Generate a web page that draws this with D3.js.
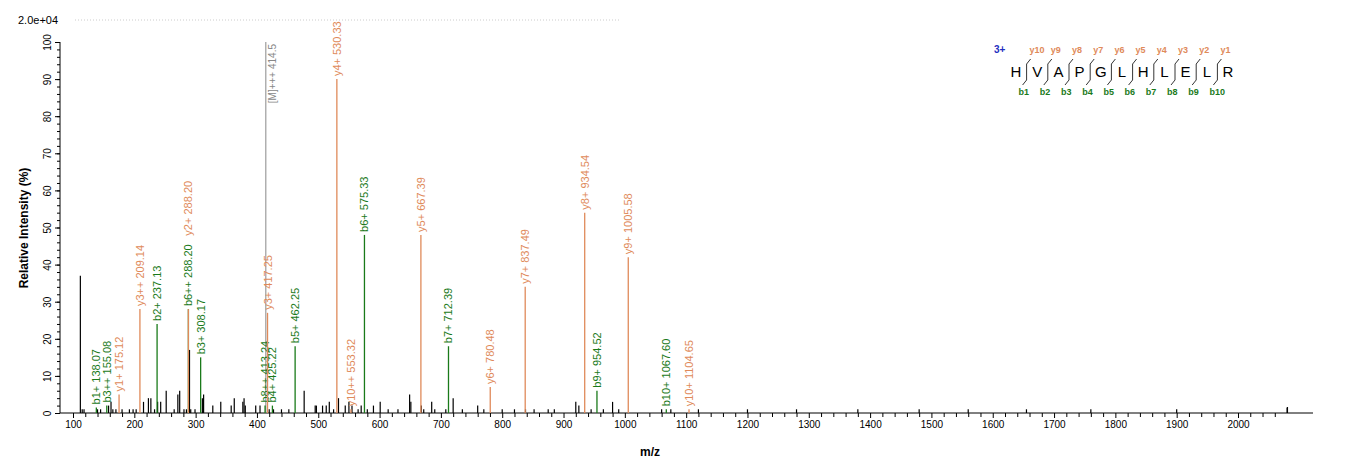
<!DOCTYPE html><html><head><meta charset="utf-8"><script src="https://cdn.jsdelivr.net/npm/d3@7"></script>
<style>body{margin:0;background:#fff}text{font-family:Arial,"Liberation Sans",sans-serif}</style></head><body><svg id="c" width="1362" height="473"></svg>
<script>
const xTicks=d3.range(100,2001,100);
const yTicks=[0,10,20,30,40,50,60,70,80,90,100];
const noiseMz=[112,115,118,140,145,158,162,165,170,180,192,198,203,215,223,227,233,238,243,252,265,271,274,281,285,290,292,299,311,313,328,341,358,363,377,379,381,398,405,420,427,440,452,477,495,497,507,513,518,525,533,544,550,555,565,570,580,590,601,614,630,649,651,668,672,685,690,708,720,735,760,770,800,820,838,852,875,885,920,925,945,965,980,990,1060,1075,1120,1200,1280,1380,1480,1560,1655,1760,1900,2080];
const noiseInt=[37,1,1,1,1,2,3,1,1,1,1,1,1,3,4,4,1,3,3,6,1,5,6,1,1,17,1,1,4,5,2,3,2,4,3,4,2,2,2,1,1,1,1,6,2,2,2,2,3,1,4,2,3,2,1,2,1,2,3,1,1,5,3,2,1,3,1,1,4,1,2,1,1,1,1,1,1,1,3,2,1,1,3,1,1,1,1,1,1,1,1,1,1,1,1,1.5];
const ionLabel=["b1+ 138.07","b3++ 155.08","y1+ 175.12","y3++ 209.14","b2+ 237.13","b6++ 288.20","y2+ 288.20","b3+ 308.17","b8++ 413.24","b4+ 425.22","y3+ 417.25","b5+ 462.25","y4+ 530.33","y10++ 553.32","b6+ 575.33","y5+ 667.39","b7+ 712.39","y6+ 780.48","y7+ 837.49","y8+ 934.54","b9+ 954.52","y9+ 1005.58","b10+ 1067.60","y10+ 1104.65"];
const ionMz=[138.07,155.08,175.12,209.14,237.13,288.2,288.2,308.17,413.24,425.22,417.25,462.25,530.33,553.32,575.33,667.39,712.39,780.48,837.49,934.54,954.52,1005.58,1067.6,1104.65];
const ionInt=[1.5,2,5,28,24,28,47,15,2,2,27,18,90,1,48,48,18,7,34,54,6,42,1,1];
const ionType=["b","b","y","y","b","b","y","b","b","b","y","b","y","y","b","y","b","y","y","y","b","y","b","y"];
const precursorMz=414.5, precursorInt=100, precursorLabel="[M]+++ 414.5";
const seq=["H","V","A","P","G","L","H","L","E","L","R"];
const colors={b:"#1a7a1a",y:"#e08a5a"};
const svg=d3.select("#c");
const x=d3.scaleLinear().domain([100,2000]).range([73,1238]);
const y=d3.scaleLinear().domain([0,100]).range([413,42]);
svg.append("g").attr("transform","translate(0,413)").call(d3.axisBottom(x).tickValues(xTicks).tickSize(5).tickFormat(d3.format("d"))).call(g=>{g.select(".domain").attr("d","M60,0H1313");g.selectAll("text").attr("font-size",10);});
svg.append("g").attr("transform","translate(0,413)").call(d3.axisBottom(x).tickValues(d3.range(120,2061,20).filter(v=>v%100)).tickSize(4).tickFormat("")).select(".domain").remove();
svg.append("g").attr("transform","translate(0,413)").call(d3.axisBottom(x).tickValues([2080]).tickSize(-6).tickFormat("")).select(".domain").remove();
svg.append("g").attr("transform","translate(60,0)").call(d3.axisLeft(y).tickValues(yTicks).tickSize(5)).call(g=>{g.selectAll("text").attr("font-size",10).attr("text-anchor","middle").attr("transform",function(){const t=d3.select(this.parentNode).attr("transform");return "translate(-12,0) rotate(-90)";}).attr("x",0).attr("dy","0.32em");g.select(".domain").attr("d","M0,413V42");});
svg.append("g").attr("transform","translate(60,0)").call(d3.axisLeft(y).tickValues(d3.range(2,100,2)).tickSize(3).tickFormat("")).select(".domain").remove();
svg.append("text").attr("x",18).attr("y",24).attr("font-size",11).text("2.0e+04");
svg.append("line").attr("x1",75).attr("x2",620).attr("y1",20).attr("y2",20).attr("stroke","#ccc").attr("stroke-dasharray","1,2");
svg.append("text").attr("transform","translate(28,228) rotate(-90)").attr("text-anchor","middle").attr("font-size",12).attr("font-weight","bold").text("Relative   Intensity (%)");
svg.append("text").attr("x",650).attr("y",456).attr("text-anchor","middle").attr("font-size",12).attr("font-weight","bold").text("m/z");
svg.selectAll(".n").data(noiseMz).join("line").attr("x1",d=>x(d)).attr("x2",d=>x(d)).attr("y1",413).attr("y2",(d,i)=>y(noiseInt[i])).attr("stroke","#000").attr("stroke-width",1.2);
svg.append("line").attr("x1",x(precursorMz)).attr("x2",x(precursorMz)).attr("y1",413).attr("y2",y(precursorInt)).attr("stroke","#888");
svg.append("text").attr("transform",`translate(${x(precursorMz)+10},${y(precursorInt)+2}) rotate(-90)`).attr("text-anchor","end").attr("font-size",10).attr("fill","#888").text(precursorLabel);
ionMz.forEach((m,i)=>{const c=colors[ionType[i]];
 const h=ionLabel[i].startsWith("y2+")?28:ionInt[i];
 svg.append("line").attr("x1",x(m)).attr("x2",x(m)).attr("y1",413).attr("y2",y(h)).attr("stroke",c).attr("stroke-width",1.3);
 svg.append("text").attr("transform",`translate(${x(m)+4},${y(ionInt[i])-3}) rotate(-90)`).attr("font-size",11).attr("fill",c).text(ionLabel[i]);});
const px=d3.scalePoint().domain(d3.range(seq.length)).range([1016,1228]);
svg.append("text").attr("x",994).attr("y",53).attr("font-size",10).attr("fill","#1f2fbf").attr("font-weight","bold").text("3+");
seq.forEach((s,i)=>{svg.append("text").attr("x",px(i)).attr("y",77).attr("text-anchor","middle").attr("font-size",15).text(s);
 if(i>0){const bx=(px(i-1)+px(i))/2;
 svg.append("path").attr("d",`M${bx-4},85 L${bx},80 V64 L${bx+4},59`).attr("fill","none").attr("stroke","#000").attr("stroke-width",0.8);
 svg.append("text").attr("x",bx+3).attr("y",53).attr("font-size",9).attr("font-weight","bold").attr("fill",colors.y).text("y"+(seq.length-i));
 svg.append("text").attr("x",bx-8).attr("y",95).attr("font-size",9).attr("font-weight","bold").attr("fill",colors.b).text("b"+i);}});
</script></body></html>
